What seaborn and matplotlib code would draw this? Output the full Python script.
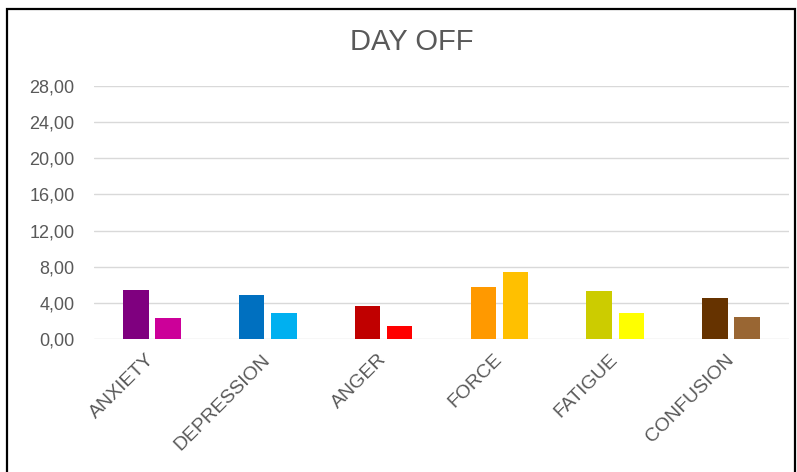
import matplotlib
matplotlib.use("Agg")
import matplotlib.pyplot as plt
import seaborn as sns
import pandas as pd
from matplotlib.patches import Rectangle
from matplotlib.ticker import FixedLocator, FixedFormatter

# Mood profile scores on the day off (two measurements per scale)
categories = ["ANXIETY", "DEPRESSION", "ANGER", "FORCE", "FATIGUE", "CONFUSION"]
first_values = [5.42, 4.83, 3.65, 5.79, 5.31, 4.57]
second_values = [2.36, 2.84, 1.40, 7.45, 2.84, 2.47]
first_colors = ["#7F007F", "#0070C0", "#C00000", "#FF9900", "#CCCC00", "#663300"]
second_colors = ["#CC0099", "#00B0F0", "#FF0000", "#FFC000", "#FFFF00", "#996633"]
y_ticks = [0, 4, 8, 12, 16, 20, 24, 28]
title = "DAY OFF"

df = pd.DataFrame({
    "scale": categories * 2,
    "score": first_values + second_values,
    "series": ["first"] * len(categories) + ["second"] * len(categories),
})

sns.set_theme(style="white")
plt.rcParams["font.family"] = ["Liberation Sans", "DejaVu Sans"]
text_color = "#595959"

fig = plt.figure(figsize=(7.97, 4.72), dpi=100)
ax = fig.add_axes([0.118, 0.2818, 0.872, 0.536])

sns.barplot(data=df, x="scale", y="score", hue="series", order=categories,
            hue_order=["first", "second"], width=0.556, gap=0.21,
            legend=False, ax=ax, errorbar=None, saturation=1)

# Each bar gets its own colour: darker shade first, lighter shade second
for patch in ax.patches:
    cx = patch.get_x() + patch.get_width() / 2
    idx = int(round(cx))
    colors = first_colors if cx < idx else second_colors
    patch.set_facecolor(colors[idx])
    patch.set_edgecolor("none")

ax.set_xlim(-0.5, len(categories) - 0.5)
ax.set_ylim(0, 28)
ax.yaxis.set_major_locator(FixedLocator(y_ticks))
ax.yaxis.set_major_formatter(FixedFormatter([f"{v:.2f}".replace(".", ",") for v in y_ticks]))
ax.grid(axis="y", color="#D9D9D9", linewidth=1)
ax.set_axisbelow(True)
for s in ax.spines.values():
    s.set_visible(False)

ax.set_xlabel("")
ax.set_ylabel("")
ax.tick_params(axis="y", length=0, pad=14, labelsize=13, labelcolor=text_color)
ax.tick_params(axis="x", length=0, pad=13, labelsize=14, labelcolor=text_color)
for lab in ax.get_xticklabels():
    lab.set_rotation(45)
    lab.set_ha("right")
    lab.set_va("center")
    lab.set_rotation_mode("anchor")

fig.text(0.516, 0.912, title, ha="center", va="center", fontsize=21, color=text_color)

# Black frame around the chart area
fig.patches.append(Rectangle((7 / 797, -0.05), 788 / 797, 1.05 - 9 / 472,
                             transform=fig.transFigure, fill=False,
                             edgecolor="black", linewidth=1.6))

fig.savefig("out.png", dpi=100)
